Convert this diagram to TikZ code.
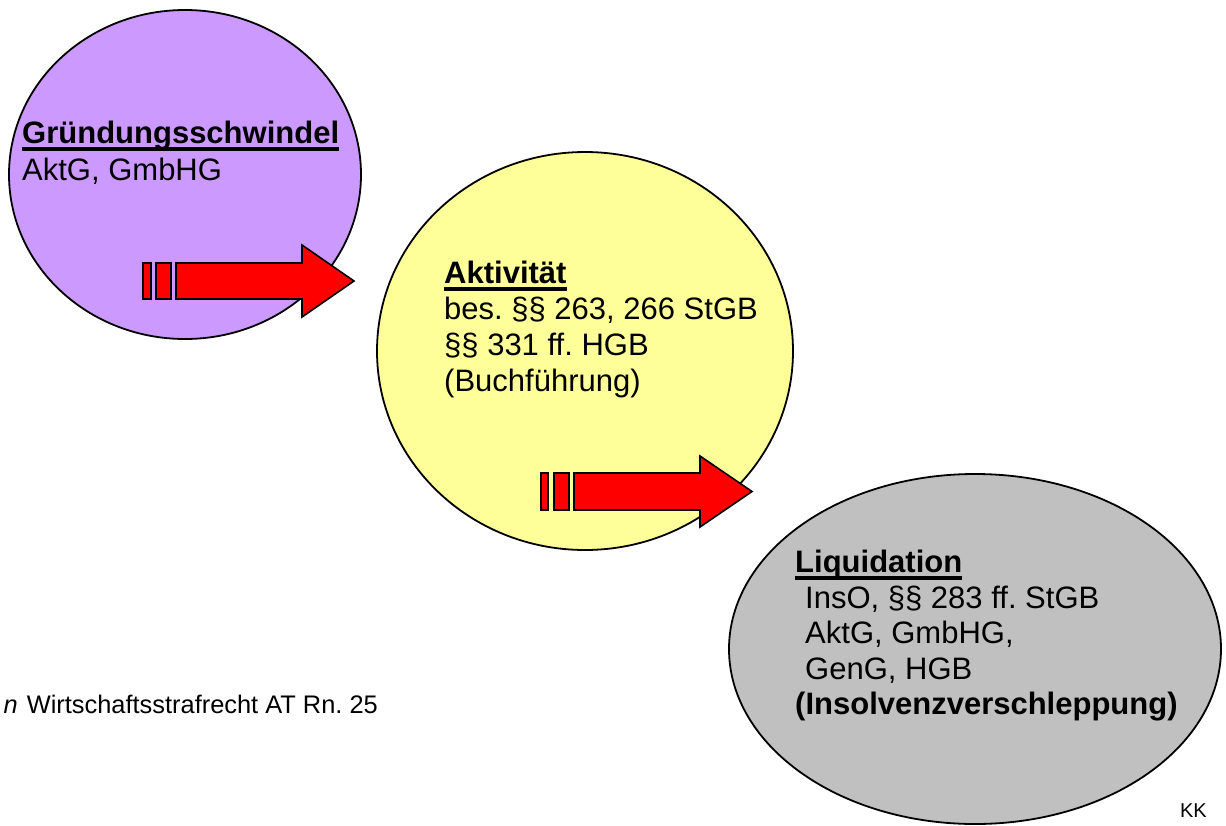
\documentclass[tikz,border=0pt]{standalone}
\usepackage{fontspec}
\setmainfont{Liberation Sans}
\usetikzlibrary{shapes.geometric}
\frenchspacing
\newcommand\myul[1]{\setbox0\hbox{#1}\rlap{\rule[-7.5pt]{\wd0}{3.5pt}}\box0}
\tikzset{
  bubble/.style={ellipse, draw=black, line width=1.8pt, inner sep=0pt},
  txt/.style={anchor=base west, inner sep=0pt, font=\fontsize{31}{36}\selectfont},
  ttl/.style={txt, font=\fontsize{31}{36}\selectfont\bfseries},
  bararrow/.style={fill=red, draw=black, line width=1.6pt, line join=miter},
}
\begin{document}
\begin{tikzpicture}[x=1pt,y=-1pt]
\frenchspacing
\useasboundingbox (0,0) rectangle (1226,825);
% bubbles
\node[bubble, fill={rgb,255:red,204;green,153;blue,255}, minimum width=352pt, minimum height=329pt] (p) at (185,174.5) {};
\node[bubble, fill={rgb,255:red,255;green,255;blue,153}, minimum width=416pt, minimum height=398pt] (y) at (585,351) {};
\node[bubble, fill={rgb,255:red,192;green,192;blue,192}, minimum width=492pt, minimum height=350pt] (g) at (975,649) {};
% texts
\node[ttl] (p1) at (22,143) {\myul{Gründungsschwindel}};
\node[txt] (p2) at (22,180) {AktG, GmbHG};
\node[ttl] (y1) at (444,283) {\myul{Aktivität}};
\node[txt] (y2) at (444,319) {bes. §§ 263, 266 StGB};
\node[txt] (y3) at (444,355) {§§ 331 ff. HGB};
\node[txt] (y4) at (444,391) {(Buchführung)};
\node[ttl] (g1) at (795,572) {\myul{Liquidation}};
\node[txt] (g2) at (805,608) {InsO, §§ 283 ff. StGB};
\node[txt] (g3) at (805,643.5) {AktG, GmbHG,};
\node[txt] (g4) at (805,679) {GenG, HGB};
\node[ttl] (g5) at (795,714.5) {(Insolvenzverschleppung)};
\node[anchor=base east, inner sep=0pt, font=\fontsize{25.4}{30}\selectfont] (fn) at (378,713) {\textit{n}\hskip 9pt Wirtschaftsstrafrecht AT Rn. 25};
\node[anchor=base east, inner sep=0pt, font=\fontsize{20}{24}\selectfont] (kk) at (1207,817) {KK};
% arrow 1
\draw[bararrow] (143,263) rectangle (151,299);
\draw[bararrow] (156,263) rectangle (171,299);
\draw[bararrow] (176,263) -- (302,263) -- (302,245) -- (354,281) -- (302,317) -- (302,299) -- (176,299) -- cycle;
% arrow 2
\draw[bararrow] (541,473) rectangle (548,510);
\draw[bararrow] (554,473) rectangle (569,510);
\draw[bararrow] (574,473) -- (700,473) -- (700,456) -- (752,491.5) -- (700,527) -- (700,510) -- (574,510) -- cycle;
\end{tikzpicture}
\end{document}
